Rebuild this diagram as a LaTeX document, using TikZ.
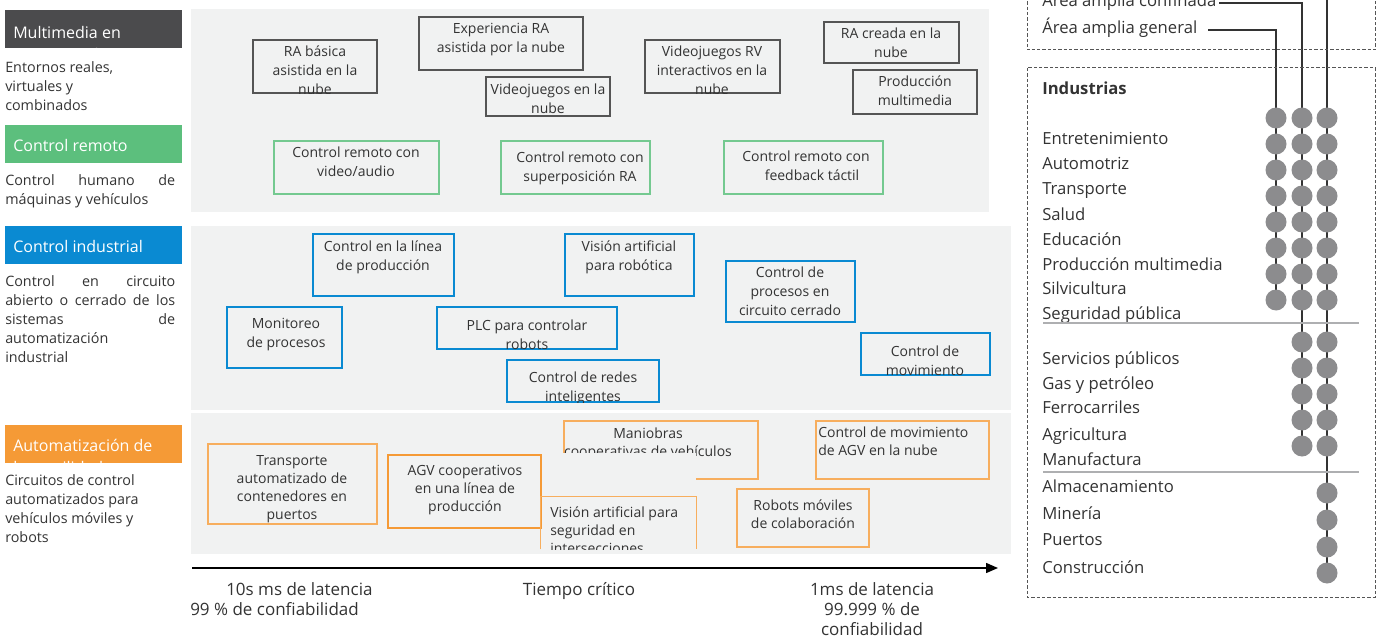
\documentclass[tikz,border=0pt]{standalone}
\usepackage{fontspec}
\setmainfont{Open Sans}
\usetikzlibrary{fit,arrows.meta,backgrounds}
\hyphenpenalty=10000
\exhyphenpenalty=10000

\definecolor{bandgray}{HTML}{F1F2F2}
\definecolor{mmgray}{HTML}{4B4B4D}
\definecolor{rcgreen}{HTML}{5CBF7D}
\definecolor{ciblue}{HTML}{0A8AD2}
\definecolor{amorange}{HTML}{F59A36}
\definecolor{txtgray}{HTML}{333333}
\definecolor{dotgray}{HTML}{8C8C8E}
\definecolor{rulegray}{HTML}{AEAFB1}
\definecolor{boxgray}{HTML}{555555}

% box with its text clipped to the frame
\newcommand{\usecase}[6]{%
  \node[fit={#3 #4}, #2] (#1) {};
  \begin{scope}
    \clip (#1.south west) rectangle (#1.north east);
    \node[casetext, #5] (#1-t) {#6};
  \end{scope}}

% coloured heading bar, second line cut off
\newcommand{\headbar}[5]{%
  \node[fit={(5,#3) (182,#3+38)}, inner sep=0pt, fill=#2] (#1) {};
  \begin{scope}
    \clip (#1.south west) rectangle (#1.north east);
    \node[headtext] (#1-t) at (13,#3+#4) {#5};
  \end{scope}}

\begin{document}
\begin{tikzpicture}[x=0.75pt, y=-0.75pt,
    every node/.style={text=txtgray},
    band/.style={fill=bandgray},
    casebase/.style={inner sep=0pt, line width=1.1pt},
    graycase/.style={casebase, draw=boxgray},
    greencase/.style={casebase, draw=rcgreen!85!white},
    bluecase/.style={casebase, draw=ciblue},
    orangecase/.style={casebase, draw=amorange!80!white},
    agvcase/.style={casebase, draw=amorange, line width=1.9pt},
    casetext/.style={inner sep=0pt, anchor=north, align=center, yshift=-2.25pt,
        font=\fontsize{10.5}{14.25}\selectfont},
    ortext/.style={font=\fontsize{10.5}{13.5}\selectfont},
    headtext/.style={inner sep=0pt, anchor=north west, align=left, text=white,
        font=\fontsize{12}{16.5}\selectfont},
    desc/.style={inner sep=0pt, anchor=north west, yshift=-2.25pt,
        font=\fontsize{10.75}{14.25}\selectfont},
    descjust/.style={desc, text width=127.5pt, align=justify},
    industry/.style={inner sep=0pt, anchor=west, text height=9pt, text depth=3pt,
        yshift=-2.25pt, font=\fontsize{12.5}{14}\selectfont},
    dot/.style={circle, fill=dotgray, inner sep=0pt, minimum size=15.75pt},
    legline/.style={draw=txtgray, line width=0.9pt},
    dashbox/.style={draw=boxgray, line width=0.75pt, dash pattern=on 2.5pt off 1.5pt},
    axisline/.style={draw=black, line width=1.1pt, -{Triangle[length=9pt, width=7.5pt]}},
    axtext/.style={inner sep=0pt, anchor=north, align=center, yshift=-2.25pt,
        font=\fontsize{12.75}{15.25}\selectfont}
  ]
  \useasboundingbox (0,0) rectangle (1377,638);
  \clip (0,0) rectangle (1377,638);

  % bands
  \fill[band] (191,9) rectangle (989,212);
  \fill[band] (191,226) rectangle (1011,410);
  \fill[band] (191,413) rectangle (1011,554);

  % headings and descriptions
  \headbar{mmbar}{mmgray}{10}{16}{Multimedia en\\tiempo real}
  \node[desc, align=left] (mmdesc) at (5,58) {Entornos reales,\\virtuales y\\combinados};
  \headbar{rcbar}{rcgreen}{125}{14}{Control remoto}
  \node[descjust] (rcdesc) at (5,171) {Control humano de\linebreak m\'aquinas y veh\'iculos};
  \headbar{cibar}{ciblue}{226}{14}{Control industrial}
  \node[descjust] (cidesc) at (5,272) {Control en circuito\linebreak abierto o cerrado de los\linebreak sistemas de\linebreak automatizaci\'on\linebreak industrial};
  \headbar{ambar}{amorange}{425}{14}{Automatizaci\'on de\\la movilidad}
  \node[desc, align=left] (amdesc) at (5,471) {Circuitos de control\\automatizados para\\veh\'iculos m\'oviles y\\robots};

  % multimedia
  \usecase{rabasica}{graycase}{(253,40)}{(377,93)}{at={(315,43)}}{RA b\'asica\\asistida en la\\nube}
  \usecase{raexp}{graycase}{(419,17)}{(583,70)}{at={(501,20)}}{Experiencia RA\\asistida por la nube}
  \usecase{vjnube}{graycase}{(486,77)}{(610,116)}{at={(548,81)}}{Videojuegos en la\\nube}
  \usecase{vjrv}{graycase}{(645,40)}{(780,93)}{at={(712,43)}}{Videojuegos RV\\interactivos en la\\nube}
  \usecase{racreada}{graycase}{(824,22)}{(959,63)}{at={(891,25)}}{RA creada en la\\nube}
  \usecase{prodmm}{graycase}{(853,70)}{(977,114)}{at={(915,73)}}{Producci\'on\\multimedia}
  % control remoto
  \usecase{rcvideo}{greencase}{(274,141)}{(439,194)}{at={(356,144)}}{Control remoto con\\video/audio}
  \usecase{rcsuper}{greencase}{(501,141)}{(650,194)}{at={(580,149)}}{Control remoto con\\superposici\'on RA}
  \usecase{rcfeed}{greencase}{(724,141)}{(883,194)}{at={(806,148)}}{Control remoto con\\\hspace*{9pt}feedback t\'actil}
  % control industrial
  \usecase{linprod}{bluecase}{(313,234)}{(454,296)}{at={(383,238)}}{Control en la l\'inea\\de producci\'on}
  \usecase{visrob}{bluecase}{(565,234)}{(694,296)}{at={(629,238)}}{Visi\'on artificial\\para rob\'otica}
  \usecase{procce}{bluecase}{(726,261)}{(855,322)}{at={(790,264)}}{Control de\\procesos en\\circuito cerrado}
  \usecase{monproc}{bluecase}{(227,307)}{(342,368)}{at={(286,315)}}{Monitoreo\\de procesos}
  \usecase{plc}{bluecase}{(437,307)}{(617,349)}{at={(527,317)}}{PLC para controlar\\robots}
  \usecase{redes}{bluecase}{(507,360)}{(659,402)}{at={(583,369)}}{Control de redes\\inteligentes}
  \usecase{movim}{bluecase}{(861,333)}{(990,375)}{at={(925,343)}}{Control de\\movimiento}
  % automatizacion de la movilidad
  \usecase{transp}{orangecase}{(208,444)}{(377,524)}{ortext, at={(292,452)}}{Transporte\\automatizado de\\contenedores en\\puertos}
  \usecase{agv}{agvcase}{(388,455)}{(541,528)}{ortext, at={(465,462)}}{AGV cooperativos\\en una l\'inea de\\producci\'on}
  \usecase{maniob}{orangecase}{(564,421)}{(758,479)}{ortext, at={(648,425)}}{Maniobras\\cooperativas de veh\'iculos}
  \usecase{agvnube}{orangecase}{(816,421)}{(989,479)}{ortext, anchor=north west, align=left, at={(818,424)}}{Control de movimiento\\de AGV en la nube}
  \usecase{robots}{orangecase}{(737,489)}{(869,547)}{ortext, at={(803,497)}}{Robots m\'oviles\\de colaboraci\'on}
  \fill[band] (543,453) rectangle (696,497);
  \node[fit={(541,497) (696,549)}, inner sep=0pt] (visseg) {};
  \draw[orangecase] (visseg.south west) |- (visseg.north east) -- (visseg.south east);
  \begin{scope}
    \clip (visseg.south west) rectangle (visseg.north east);
    \node[casetext, ortext, anchor=north west, align=left] (visseg-t) at (550,504) {Visi\'on artificial para\\seguridad en\\intersecciones};
  \end{scope}

  % axis
  \coordinate (axstart) at (192,568);
  \coordinate (axend) at (998,568);
  \draw[axisline] (axstart) -- (axend);
  \node[axtext, anchor=north west, align=left] (axleft) at (190,579) {\hspace*{27pt}10s ms de latencia\\99 \% de confiabilidad};
  \node[axtext] (axmid) at (579,579) {Tiempo cr\'itico};
  \node[axtext] (axright) at (872,579) {1ms de latencia\\99.999 \% de\\confiabilidad};

  % legend
  \draw[dashbox] (1027,-20) rectangle (1375,50);
  \node[industry] (conf) at (1042,0) {\'Area amplia confinada};
  \node[industry] (gen) at (1042,27) {\'Area amplia general};
  \coordinate (ctop) at (1327,-10);

  % industries
  \draw[dashbox] (1027,68) rectangle (1375,597);
  \node[industry, font=\fontsize{12.5}{14}\selectfont\bfseries] (indhead) at (1042,88) {Industrias};
  \foreach \y/\txt [count=\i] in {138/Entretenimiento, 163/Automotriz, 188/Transporte,
      213/Salud, 238/Educaci\'on, 263/Producci\'on multimedia, 287/Silvicultura,
      312/Seguridad p\'ublica, 357/Servicios p\'ublicos, 382/Gas y petr\'oleo,
      406/Ferrocarriles, 433/Agricultura, 458/Manufactura, 485/Almacenamiento,
      512/Miner\'ia, 538/Puertos, 566/Construcci\'on}
    \node[industry] (ind\i) at (1042,\y) {\txt};
  \draw[rulegray, line width=1.1pt] (1043,323) -- (1359,323);
  \draw[rulegray, line width=1.1pt] (1043,472) -- (1359,472);

  \foreach \y [count=\i] in {118,144,170,196,222,248,274,300}
    \node[dot] (dA\i) at (1276,\y) {};
  \foreach \y [count=\i] in {118,144,170,196,222,248,274,300,342,368,394,420,446}
    \node[dot] (dB\i) at (1302,\y) {};
  \foreach \y [count=\i] in {118,144,170,196,222,248,274,300,342,368,394,420,446,493,520,547,573}
    \node[dot] (dC\i) at (1327,\y) {};

  \begin{pgfonlayer}{background}
    \draw[legline] ([xshift=8pt]gen.east) -| (dA8.center);
    \draw[legline] ([xshift=2pt]conf.east) -| (dB13.center);
    \draw[legline] (ctop) -- (dC17.center);
  \end{pgfonlayer}
\end{tikzpicture}
\end{document}
